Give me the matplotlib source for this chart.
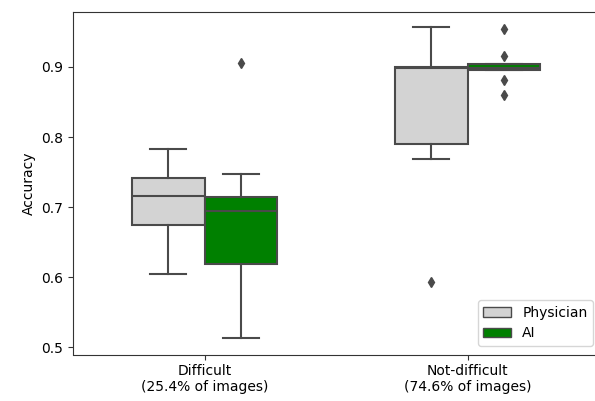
import matplotlib
matplotlib.use("Agg")
import matplotlib.pyplot as plt
from matplotlib.patches import Patch

categories = ["Difficult\n(25.4% of images)", "Not-difficult\n(74.6% of images)"]
groups = ["Physician", "AI"]
colors = ["#d3d3d3", "#008000"]

# box statistics per group, per category: whislo, q1, med, q3, whishi
phys_whislo = [0.605, 0.768]
phys_q1 = [0.675, 0.7895]
phys_med = [0.716, 0.899]
phys_q3 = [0.742, 0.900]
phys_whishi = [0.783, 0.957]
phys_fliers = [[], [0.593]]

ai_whislo = [0.513, 0.895]
ai_q1 = [0.619, 0.895]
ai_med = [0.694, 0.899]
ai_q3 = [0.715, 0.904]
ai_whishi = [0.747, 0.904]
ai_fliers = [[0.906], [0.954, 0.915, 0.881, 0.860]]

line_col = "#4a4a4a"

fig = plt.figure(figsize=(5.95, 4.01), dpi=100)
W, H = 595, 401
ax = fig.add_axes([73 / W, (H - 354.5) / H, 526 / W, (354.5 - 12) / H])

half = 0.137
series = [
    (phys_whislo, phys_q1, phys_med, phys_q3, phys_whishi, phys_fliers, -half, colors[0]),
    (ai_whislo, ai_q1, ai_med, ai_q3, ai_whishi, ai_fliers, half, colors[1]),
]
for wl, q1, md, q3, wh, fl, off, col in series:
    stats = []
    for i in range(len(categories)):
        stats.append(dict(whislo=wl[i], q1=q1[i], med=md[i], q3=q3[i], whishi=wh[i], fliers=fl[i]))
    ax.bxp(stats, positions=[i + off for i in range(len(categories))],
           widths=2 * half, capwidths=half, patch_artist=True, manage_ticks=False,
           boxprops=dict(facecolor=col, edgecolor=line_col, linewidth=1.5),
           medianprops=dict(color=line_col, linewidth=1.5),
           whiskerprops=dict(color=line_col, linewidth=1.5),
           capprops=dict(color=line_col, linewidth=1.5),
           flierprops=dict(marker="d", markerfacecolor=line_col, markeredgecolor=line_col,
                           markersize=5.5, linestyle="none"))

ax.set_xlim(-0.5, 1.5)
ax.set_ylim(0.4898, 0.9783)
ax.set_xticks(range(len(categories)))
ax.set_xticklabels(categories, fontsize=10)
ax.set_yticks([0.5, 0.6, 0.7, 0.8, 0.9])
ax.tick_params(labelsize=10, color="#333333")
for s in ax.spines.values():
    s.set_color("#333333")
ax.set_ylabel("Accuracy", fontsize=10)

handles = [Patch(facecolor=c, edgecolor=line_col, linewidth=1.0, label=g) for g, c in zip(groups, colors)]
ax.legend(handles=handles, loc="lower right", bbox_to_anchor=(593 / W, (H - 346) / H),
          bbox_transform=fig.transFigure, borderaxespad=0, fontsize=10)

fig.savefig("out.png", dpi=100)
